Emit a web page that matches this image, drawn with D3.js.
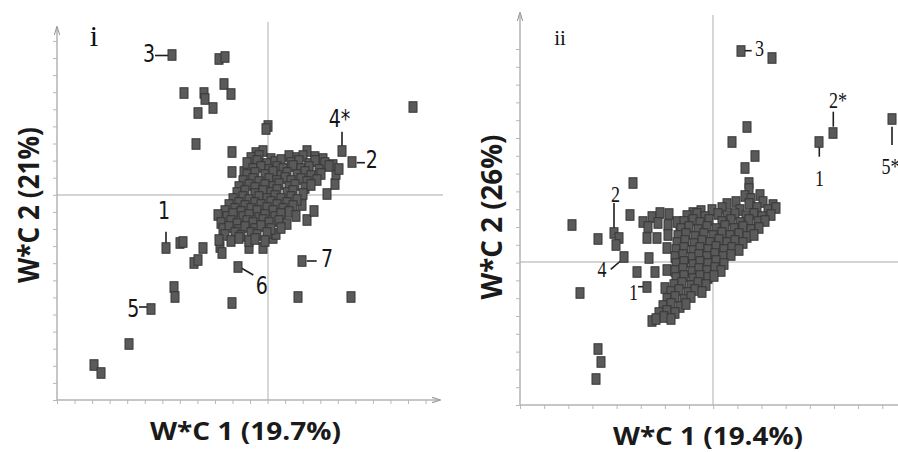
<!DOCTYPE html>
<html><head><meta charset="utf-8">
<script src="https://cdn.jsdelivr.net/npm/d3@7"></script>
<style>html,body{margin:0;padding:0;background:#fff;}svg{display:block;}</style>
</head><body>
<div id="chart"></div>
<script>
// ---------------- DATA ----------------
// Panel i (W*C 1 19.7% vs W*C 2 21%)
const panelIOutliers = [
 [-9.6,14.0],[-4.9,13.6],[-4.3,13.8],[-8.4,10.2],[-6.4,10.2],[-6.3,9.6],[-4.4,11.1],[-3.7,10.1],
 [-5.5,8.7],[-7.0,8.2],[-7.2,5.1],[-3.6,4.3],[-3.6,2.3],[-2.4,2.3],[0.0,6.9],[-0.2,6.6],[14.5,8.8],
 [7.4,4.4],[8.4,3.3],[5.9,0.1],[6.7,1.1],[6.8,2.1],[3.4,-6.6],[-3.0,-7.2],[-10.2,-5.3],[-8.8,-4.8],
 [-8.5,-4.7],[-6.5,-5.3],[-7.4,-6.8],[-7.0,-6.5],[-9.4,-9.2],[-9.3,-10.2],[-11.7,-11.4],[-3.6,-10.8],
 [3.0,-10.2],[8.3,-10.2],[-13.9,-14.9],[-17.4,-17.0],[-16.7,-17.8],[-4.8,-5.2],[-4.6,-5.8],[-1.9,-5.3],
 [-0.5,-5.3],[0.5,-4.3],[0.8,-3.9],[3.9,-2.5],[4.6,-1.6],[3.4,-1.0]
];
const panelICluster = [
 [-1.2,4.2],[-0.5,4.4],[3.9,4.4],
 [-1.7,3.7],[-0.9,3.9],[0.3,3.6],[2.1,3.9],[2.9,3.7],[3.5,3.9],[4.7,3.8],[5.5,3.6],
 [-2.1,3.2],[-1.1,3.4],[-0.1,3.1],[0.7,3.3],[1.3,3.5],[2.3,3.2],[3.1,3.4],[4.1,3.1],[4.7,3.4],[5.7,3.2],[6.5,3.0],
 [-1.5,2.6],[-0.7,2.8],[0.1,2.5],[0.9,2.8],[1.5,2.6],[2.5,2.9],[3.3,2.6],[4.1,2.8],[5.1,2.5],[6.1,2.9],[7.1,2.6],
 [-2.1,2.0],[-1.3,2.2],[-0.3,2.0],[0.5,2.3],[1.3,1.9],[1.9,2.2],[2.9,2.0],[3.7,2.3],[4.3,1.9],[5.3,2.1],
 [-2.5,1.4],[-1.5,1.6],[-0.9,1.3],[0.1,1.6],[0.9,1.4],[1.7,1.7],[2.3,1.4],[3.3,1.6],[3.9,1.3],[4.9,1.5],
 [-2.9,0.8],[-1.9,1.0],[-1.3,0.7],[-0.3,1.0],[0.5,0.8],[1.1,1.1],[2.1,0.8],[2.7,1.0],[3.7,0.7],[4.3,1.0],
 [-3.1,0.2],[-2.3,0.4],[-1.3,0.1],[-0.5,0.4],[0.3,0.2],[0.9,0.5],[1.9,0.2],[2.5,0.4],[3.5,0.1],
 [-3.5,-0.4],[-2.5,-0.2],[-1.9,-0.5],[-0.9,-0.2],[-0.1,-0.4],[0.7,-0.1],[1.3,-0.4],[2.3,-0.2],[2.9,-0.5],
 [-3.9,-1.0],[-2.9,-0.8],[-2.3,-1.1],[-1.3,-0.8],[-0.7,-1.0],[0.3,-0.7],[0.9,-1.0],[1.9,-0.8],[2.5,-1.1],
 [-4.3,-1.6],[-3.3,-1.4],[-2.7,-1.7],[-1.7,-1.4],[-1.1,-1.6],[-0.1,-1.3],[0.5,-1.6],[1.5,-1.4],[2.1,-1.7],
 [-5.0,-2.0],[-4.1,-2.2],[-3.5,-1.9],[-2.5,-2.2],[-1.9,-2.0],[-0.9,-2.3],[-0.3,-2.0],[0.7,-2.2],[1.3,-1.9],[2.8,-2.1],
 [-4.7,-2.8],[-3.7,-2.6],[-3.1,-2.9],[-2.1,-2.6],[-1.5,-2.8],[-0.5,-2.5],[0.1,-2.8],[1.1,-2.6],[1.9,-2.9],
 [-4.5,-3.4],[-3.9,-3.2],[-2.9,-3.5],[-2.3,-3.2],[-1.3,-3.4],[-0.7,-3.1],[0.3,-3.4],[1.3,-3.3],
 [-4.3,-4.0],[-3.3,-3.8],[-2.7,-4.1],[-1.7,-3.8],[-1.1,-4.0],[-0.1,-3.8],
 [-4.9,-4.5],[-3.7,-4.6],[-2.9,-4.3],[-1.9,-4.6],[-1.3,-4.4],[-0.3,-4.6]
];
// Panel ii (W*C 1 19.4% vs W*C 2 26%)
const panelIIOutliers = [
 [2.8,21.1],[5.9,20.4],[3.4,13.5],[1.9,12.0],[4.2,10.6],[3.2,9.4],[3.6,7.9],[3.6,7.3],
 [10.6,12.0],[12.0,12.9],[17.9,14.3],
 [-14.1,3.7],[-13.3,-3.1],[-11.5,2.3],[-11.5,-8.7],[-11.2,-10.0],[-11.7,-11.7],
 [-8.0,7.9],[-8.3,4.7],[-9.9,2.9],[-9.4,2.4],[-9.7,1.7],[-8.9,0.5],[-7.6,-1.0],[-6.4,0.4],[-6.6,-2.5],
 [-7.0,4.0],[-6.1,4.5],[-5.3,4.9],[-4.4,4.8],[-6.5,3.5],[-5.5,3.9],[-4.5,3.7],[-3.6,4.0],
 [-6.6,2.4],[-5.6,2.4],[-4.5,2.7],[-4.6,1.4],[-5.8,-1.0],[-4.6,-0.8],[-4.8,-2.6],[-6.1,-5.9],[-3.3,2.9]
];
const panelIICluster = [
 [3.2,6.6],[3.8,6.3],[4.7,6.7],
 [1.4,5.8],[2.3,6.0],[3.6,5.8],[5.0,6.0],[6.0,5.7],
 [-2.0,4.9],[-1.2,5.1],[-0.1,5.2],[0.9,5.4],[2.7,5.2],[4.4,5.4],[5.5,5.2],[6.3,5.4],
 [-2.6,4.6],[-1.6,4.8],[-0.8,4.5],[0.5,4.8],[1.4,4.6],[2.2,4.8],[3.3,4.6],[4.1,4.8],[4.9,4.5],[5.8,4.7],
 [-2.9,4.0],[-2.0,4.2],[-1.3,3.9],[-0.4,4.2],[0.9,4.0],[1.8,4.2],[2.7,3.9],[3.6,4.2],[4.5,4.0],[5.2,4.1],
 [-3.2,3.3],[-2.4,3.5],[-1.5,3.2],[-0.6,3.5],[0.3,3.3],[1.2,3.6],[2.1,3.3],[3.0,3.5],[3.8,3.2],[4.6,3.4],
 [-3.5,2.6],[-2.7,2.8],[-1.8,2.5],[-0.9,2.8],[0.0,2.6],[0.9,2.9],[1.7,2.6],[2.6,2.8],[3.4,2.5],[4.1,2.7],
 [-3.6,1.9],[-2.8,2.1],[-1.9,1.8],[-1.1,2.1],[-0.3,1.9],[0.6,2.2],[1.4,1.9],[2.2,2.1],[3.0,1.9],
 [-3.7,1.2],[-2.9,1.4],[-2.0,1.1],[-1.3,1.4],[-0.5,1.2],[0.3,1.5],[1.1,1.2],[1.9,1.4],[2.6,1.2],
 [-3.8,0.5],[-3.0,0.7],[-2.1,0.4],[-1.4,0.7],[-0.6,0.5],[0.2,0.8],[1.0,0.5],[1.8,0.7],
 [-3.7,-0.2],[-2.9,0.0],[-2.0,-0.3],[-1.3,0.0],[-0.5,-0.2],[0.3,0.1],[1.1,-0.2],
 [-3.8,-0.9],[-3.0,-0.7],[-2.1,-1.0],[-1.4,-0.7],[-0.6,-0.9],[0.2,-0.6],[0.8,-0.9],
 [-3.7,-1.6],[-2.9,-1.4],[-2.0,-1.7],[-1.3,-1.4],[-0.5,-1.6],[0.1,-1.4],
 [-3.9,-2.3],[-3.1,-2.1],[-2.2,-2.4],[-1.5,-2.1],[-0.7,-2.3],
 [-4.2,-3.0],[-3.4,-2.8],[-2.5,-3.1],[-1.8,-2.8],[-1.1,-3.0],
 [-4.6,-3.7],[-3.8,-3.5],[-2.9,-3.8],[-2.2,-3.5],
 [-5.0,-4.4],[-4.2,-4.2],[-3.3,-4.5],[-2.7,-4.2],
 [-5.4,-5.1],[-4.6,-4.9],[-3.8,-5.1],
 [-5.7,-5.7],[-4.9,-5.5],[-4.2,-5.7]
];
// Annotation labels: text, text anchor (x,y), leader line (x1,y1,x2,y2) in data units
const panelILabels = [
 {t:"3", x:-11.9, y:13.3, l:[-11.3,13.95,-10.0,13.95]},
 {t:"4*", x:7.15, y:6.83, l:[7.4,6.33,7.4,4.9]},
 {t:"2", x:10.37, y:2.7, l:[8.87,3.23,9.7,3.23]},
 {t:"7", x:5.9, y:-7.2, l:[3.87,-6.6,4.87,-6.6]},
 {t:"6", x:-0.63, y:-9.9, l:[-2.63,-7.33,-1.47,-8.0]},
 {t:"1", x:-10.4, y:-2.4, l:[-10.2,-3.67,-10.2,-5.0]},
 {t:"5", x:-13.47, y:-12.2, l:[-12.9,-11.2,-12.0,-11.2]}
];
const panelIILabels = [
 {t:"3", x:4.65, y:20.6, l:[3.1,21.13,3.87,21.13]},
 {t:"2*", x:12.5, y:15.4, l:[12.03,15.03,12.03,13.53]},
 {t:"1", x:10.65, y:7.6, l:[10.63,11.53,10.63,10.53]},
 {t:"5*", x:17.75, y:8.8, l:[17.9,13.53,17.9,11.7]},
 {t:"2", x:-9.75, y:6.0, l:[-9.9,5.9,-9.9,3.3]},
 {t:"4", x:-11.1, y:-1.5, l:[-10.23,-0.73,-9.13,0.2]},
 {t:"1", x:-7.95, y:-3.8, l:[-7.5,-2.47,-6.7,-2.47]}
];
const titlesI = {x:"W*C 1 (19.7%)", y:"W*C 2 (21%)", tag:"i"};
const titlesII = {x:"W*C 1 (19.4%)", y:"W*C 2 (26%)", tag:"ii"};

// ---------------- DRAW ----------------
const W = 898, H = 452;
const svg = d3.select("#chart").append("svg").attr("width", W).attr("height", H);
const defs = svg.append("defs");
defs.append("marker").attr("id","arr").attr("viewBox","0 0 10 10").attr("refX",9).attr("refY",5)
  .attr("markerWidth",6).attr("markerHeight",6).attr("orient","auto-start-reverse")
  .append("path").attr("d","M0,2 L10,5 L0,8").attr("fill","none").attr("stroke","#9a9a9a").attr("stroke-width",1.2);

const AX = "#b3b3b3", CROSS = "#c6c6c6";

function panel(cfg){
  const {x, y, pts, labels, titles, xTicks, yTicks} = cfg;
  const g = svg.append("g");
  const [x0, x1] = x.range(); const [y0, y1] = y.range();
  // crosshairs
  g.append("line").attr("x1", x(0)).attr("x2", x(0)).attr("y1", cfg.crossTop).attr("y2", y0)
    .attr("stroke", CROSS).attr("stroke-width", 1.4);
  g.append("line").attr("x1", x0).attr("x2", cfg.crossRight).attr("y1", y(0)).attr("y2", y(0))
    .attr("stroke", CROSS).attr("stroke-width", 1.4);
  // axes via d3
  const xa = g.append("g").attr("transform", `translate(0,${y0})`)
    .call(d3.axisBottom(x).tickValues(xTicks).tickFormat("").tickSizeInner(4).tickSizeOuter(0));
  const ya = g.append("g").attr("transform", `translate(${x0},0)`)
    .call(d3.axisLeft(y).tickValues(yTicks).tickFormat("").tickSizeInner(4).tickSizeOuter(0));
  [xa, ya].forEach(a => { a.select(".domain").remove(); a.selectAll("line").attr("stroke", "#b8b8b8"); });
  g.append("line").attr("x1", x0).attr("x2", cfg.xArrowEnd).attr("y1", y0).attr("y2", y0)
    .attr("stroke", AX).attr("stroke-width", 1.5).attr("marker-end", cfg.xArrow ? "url(#arr)" : null);
  g.append("line").attr("x1", x0).attr("x2", x0).attr("y1", y0).attr("y2", cfg.yArrowEnd)
    .attr("stroke", AX).attr("stroke-width", 1.5).attr("marker-end", "url(#arr)");
  // leader lines + labels
  labels.forEach(d => {
    g.append("line").attr("x1", x(d.l[0])).attr("y1", y(d.l[1])).attr("x2", x(d.l[2])).attr("y2", y(d.l[3]))
      .attr("stroke", "#1e1e1e").attr("stroke-width", 1.6);
    g.append("text").attr("transform", `translate(${x(d.x)},${y(d.y)}) scale(${cfg.labelSx},1)`)
      .attr("text-anchor", "middle")
      .attr("font-family", cfg.labelFont).attr("font-size", cfg.labelSize).attr("fill", "#151515").text(d.t);
  });
  // points
  g.append("g").selectAll("rect").data(pts).join("rect")
    .attr("x", d => x(d[0]) - 4).attr("y", d => y(d[1]) - 5.25)
    .attr("width", 8).attr("height", 10.5)
    .attr("fill", "#5a5a5a").attr("stroke", "#363636").attr("stroke-width", 1);
  // titles
  g.append("text").attr("x", cfg.xTitle[0]).attr("y", cfg.xTitle[1]).attr("text-anchor", "start")
    .attr("font-family", "'Open Sans', 'DejaVu Sans', sans-serif").attr("font-weight", 700)
    .attr("font-size", 25).attr("fill", "#1a1a1a")
    .attr("textLength", cfg.xTitle[2]).attr("lengthAdjust", "spacingAndGlyphs").text(titles.x);
  g.append("text").attr("transform", `translate(${cfg.yTitle[0]},${cfg.yTitle[1]}) rotate(-90)`)
    .attr("text-anchor", "middle")
    .attr("font-family", "'Open Sans', 'DejaVu Sans', sans-serif").attr("font-weight", 700)
    .attr("font-size", 29).attr("fill", "#1a1a1a")
    .attr("textLength", cfg.yTitle[2]).attr("lengthAdjust", "spacingAndGlyphs").text(titles.y);
  g.append("text").attr("x", cfg.tag[0]).attr("y", cfg.tag[1]).attr("text-anchor", "middle")
    .attr("font-family", "'Liberation Serif', 'DejaVu Serif', serif").attr("font-size", cfg.tag[2])
    .attr("fill", "#111").text(titles.tag);
}

// Panel i
const xI = d3.scaleLinear().domain([-21.1, 16.9]).range([57, 437]);
const yI = d3.scaleLinear().domain([-20.5, 16.5]).range([400, 30]);
panel({
  x: xI, y: yI, pts: panelIOutliers.concat(panelICluster), labels: panelILabels, titles: titlesI,
  xTicks: d3.range(22).map(k => -21.1 + k * 1.755),
  yTicks: d3.range(22).map(k => -20.5 + k * 1.71),
  crossTop: 22, crossRight: 443, xArrowEnd: 440, yArrowEnd: 27, xArrow: true,
  labelFont: "'Liberation Sans Narrow', 'DejaVu Sans Condensed', sans-serif", labelSize: 24, labelSx: 0.88,
  xTitle: [150, 440, 191], yTitle: [39, 205, 156], tag: [94, 46, 30]
});

// Panel ii
const xII = d3.scaleLinear().domain([-19.3, 18.5]).range([520, 898]);
const yII = d3.scaleLinear().domain([-14.3, 24.7]).range([405, 15]);
panel({
  x: xII, y: yII, pts: panelIIOutliers.concat(panelIICluster), labels: panelIILabels, titles: titlesII,
  xTicks: d3.range(16).map(k => -19.3 + k * 2.415),
  yTicks: d3.range(21).map(k => -14.3 + k * 1.78),
  crossTop: 15, crossRight: 898, xArrowEnd: 898, yArrowEnd: 13, xArrow: false,
  labelFont: "'Liberation Serif', 'DejaVu Serif', serif", labelSize: 24, labelSx: 0.75,
  xTitle: [613, 445, 190], yTitle: [502, 217, 165], tag: [560, 45, 21]
});
</script>
</body></html>
